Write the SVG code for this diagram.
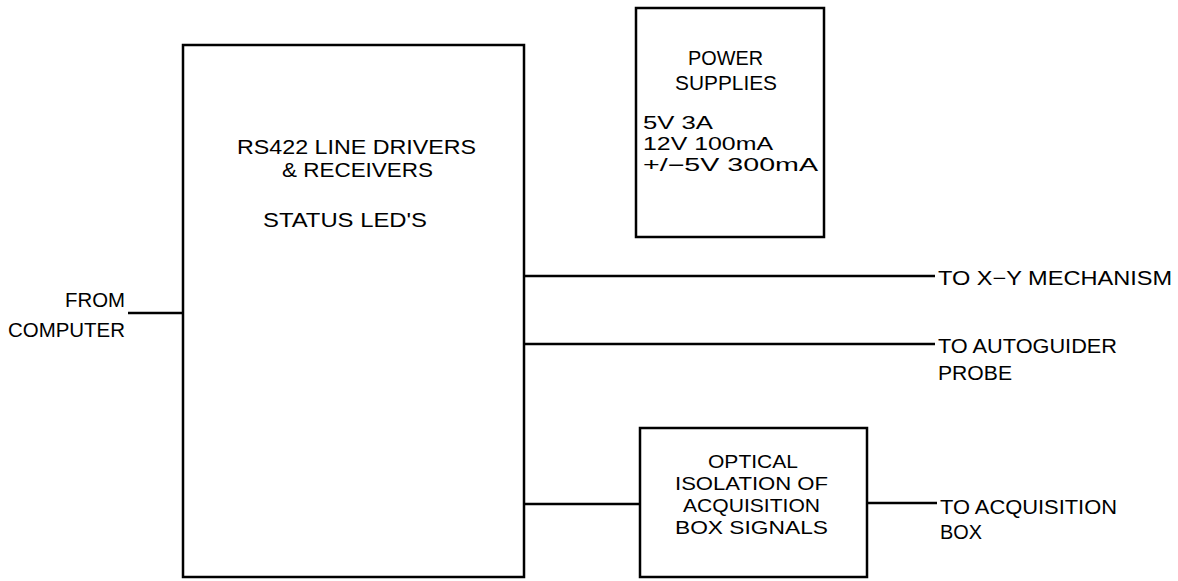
<svg xmlns="http://www.w3.org/2000/svg" width="1178" height="581" viewBox="0 0 1178 581">
<style>
.box{fill:none;stroke:#000;stroke-width:2.5}
.ln{stroke:#000;stroke-width:2.5;fill:none}
text{font-family:"Liberation Sans",Arial,sans-serif;font-size:20px;fill:#000}
.sm{font-size:18px}
</style>
<rect width="1178" height="581" fill="#fff"/>
<g id="main">
<rect class="box" x="183" y="45" width="341" height="532"/>
<text x="237" y="154" textLength="239" lengthAdjust="spacingAndGlyphs">RS422 LINE DRIVERS</text>
<text x="282" y="177" textLength="151" lengthAdjust="spacingAndGlyphs">&amp; RECEIVERS</text>
<text x="263" y="227" textLength="164" lengthAdjust="spacingAndGlyphs">STATUS LED'S</text>
</g>
<g id="power">
<rect class="box" x="636" y="8" width="188" height="229"/>
<text x="688" y="65" textLength="75" lengthAdjust="spacingAndGlyphs">POWER</text>
<text x="675" y="90" textLength="102" lengthAdjust="spacingAndGlyphs">SUPPLIES</text>
<text class="sm" x="643" y="129" textLength="70" lengthAdjust="spacingAndGlyphs">5V 3A</text>
<text class="sm" x="643" y="150" textLength="130" lengthAdjust="spacingAndGlyphs">12V 100mA</text>
<text class="sm" x="643" y="171" textLength="175" lengthAdjust="spacingAndGlyphs">+/−5V 300mA</text>
</g>
<g id="optical">
<rect class="box" x="640" y="428" width="227" height="149"/>
<text class="sm" x="708" y="468" textLength="90" lengthAdjust="spacingAndGlyphs">OPTICAL</text>
<text class="sm" x="675" y="490" textLength="153" lengthAdjust="spacingAndGlyphs">ISOLATION OF</text>
<text class="sm" x="683" y="512" textLength="137" lengthAdjust="spacingAndGlyphs">ACQUISITION</text>
<text class="sm" x="675" y="534" textLength="153" lengthAdjust="spacingAndGlyphs">BOX SIGNALS</text>
</g>
<g id="from-computer">
<text x="65" y="307" textLength="60" lengthAdjust="spacingAndGlyphs">FROM</text>
<text x="8" y="337" textLength="117" lengthAdjust="spacingAndGlyphs">COMPUTER</text>
</g>
<g id="to-xy">
<text x="938" y="285" textLength="234" lengthAdjust="spacingAndGlyphs">TO X−Y MECHANISM</text>
</g>
<g id="to-autoguider">
<text x="938" y="353" textLength="179" lengthAdjust="spacingAndGlyphs">TO AUTOGUIDER</text>
<text x="938" y="380" textLength="74" lengthAdjust="spacingAndGlyphs">PROBE</text>
</g>
<g id="to-acquisition">
<text x="940" y="514" textLength="177" lengthAdjust="spacingAndGlyphs">TO ACQUISITION</text>
<text x="940" y="539" textLength="42" lengthAdjust="spacingAndGlyphs">BOX</text>
</g>
<g id="connectors">
<line class="ln" x1="128" y1="313" x2="183" y2="313"/>
<line class="ln" x1="524" y1="276" x2="935" y2="276"/>
<line class="ln" x1="524" y1="344" x2="935" y2="344"/>
<line class="ln" x1="524" y1="504" x2="640" y2="504"/>
<line class="ln" x1="867" y1="503" x2="937" y2="503"/>
</g>
</svg>
